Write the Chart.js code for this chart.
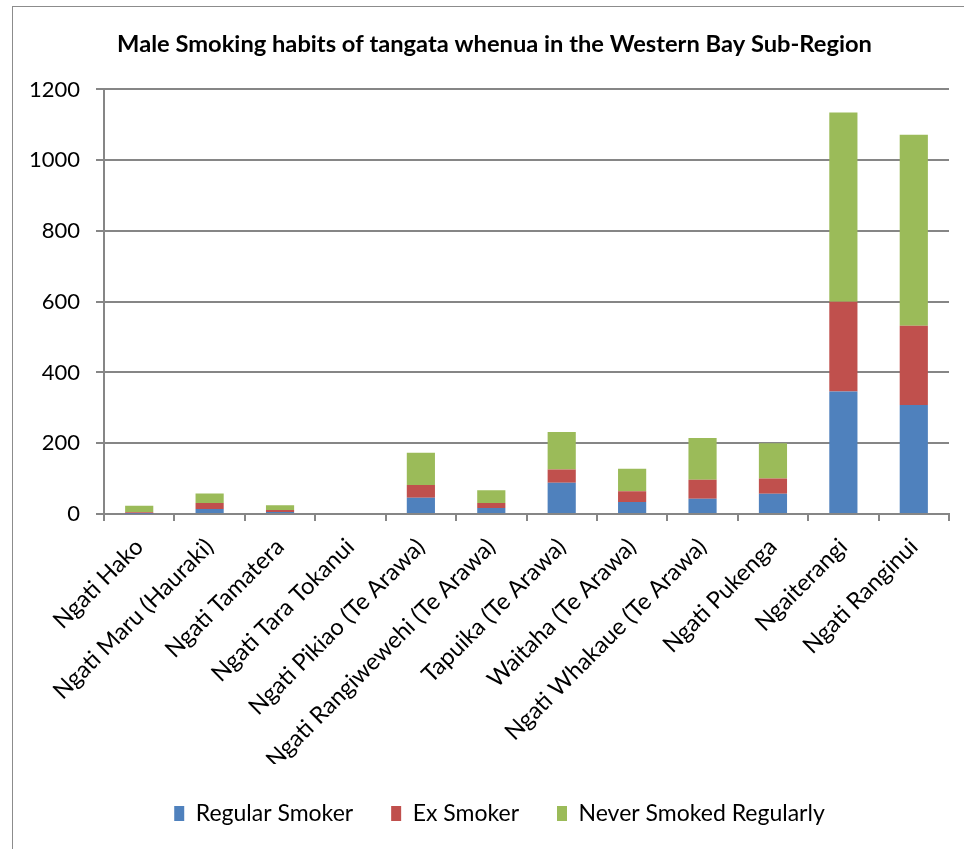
<!DOCTYPE html>
<html>
<head>
<meta charset="utf-8">
<script src="https://cdn.jsdelivr.net/npm/chart.js@4/dist/chart.umd.min.js"></script>
<style>
    html, body { margin: 0; padding: 0; background: #fff; overflow: hidden; }
    #frame {
        position: absolute; left: 12px; top: 6px;
        width: 1000px; height: 900px;
        border-left: 1px solid #8c8c8c; border-top: 1px solid #8c8c8c;
    }
    #wrap { position: absolute; left: 0; top: 0; width: 964px; height: 849px; }
</style>
</head>
<body>
<div id="frame"></div>
<div id="wrap"><canvas id="smoking-chart" width="964" height="849"></canvas></div>
<script>
    // Iwi / hapu categories
    const iwi = [
        'Ngati Hako', 'Ngati Maru (Hauraki)', 'Ngati Tamatera', 'Ngati Tara Tokanui',
        'Ngati Pikiao (Te Arawa)', 'Ngati Rangiwewehi (Te Arawa)', 'Tapuika (Te Arawa)',
        'Waitaha (Te Arawa)', 'Ngati Whakaue (Te Arawa)', 'Ngati Pukenga', 'Ngaiterangi', 'Ngati Ranginui'
    ];

    // Series values
    const regularSmoker = [1, 14, 6, 0, 46, 17, 88, 34, 43, 57, 346, 308];
    const exSmoker      = [4, 17, 5, 0, 36, 14, 38, 30, 54, 43, 254, 224];
    const neverSmoked   = [18, 27, 14, 0, 91, 36, 106, 64, 118, 100, 535, 540];

    const yTicks = [0, 200, 400, 600, 800, 1000, 1200];

    const FONT = 'Lato, "Open Sans", sans-serif';
    const AXIS_GREY = '#868686';

    // Excel centres the title and legend a little right of the canvas middle
    const shiftBlocks = {
        id: 'shiftBlocks',
        afterLayout: function(chart) {
            if (chart.legend) {
                chart.legend.left += 15;
                chart.legend.right += 15;
            }
            if (chart.titleBlock) {
                chart.titleBlock.left += 10;
                chart.titleBlock.right += 10;
            }
        }
    };

    const ctx = document.getElementById('smoking-chart').getContext('2d');
    new Chart(ctx, {
        type: 'bar',
        data: {
            labels: iwi,
            datasets: [{
                label: 'Regular Smoker',
                data: regularSmoker,
                backgroundColor: '#4F81BD'
            }, {
                label: 'Ex Smoker',
                data: exSmoker,
                backgroundColor: '#C0504D'
            }, {
                label: 'Never Smoked Regularly',
                data: neverSmoked,
                backgroundColor: '#9BBB59'
            }]
        },
        plugins: [shiftBlocks],
        options: {
            responsive: false,
            animation: false,
            devicePixelRatio: 1,
            categoryPercentage: 1,
            barPercentage: 0.4,
            layout: {
                padding: { left: 20, right: 15, top: 0, bottom: 14 }
            },
            plugins: {
                title: {
                    display: true,
                    text: 'Male Smoking habits of tangata whenua in the Western Bay Sub-Region',
                    color: '#000',
                    font: { family: FONT, size: 23.7, weight: 'bold' },
                    padding: { top: 30, bottom: 31 }
                },
                legend: {
                    position: 'bottom',
                    labels: {
                        color: '#000',
                        boxWidth: 10,
                        boxHeight: 15,
                        padding: 38,
                        font: { family: FONT, size: 23 }
                    }
                },
                tooltip: { enabled: false }
            },
            scales: {
                x: {
                    stacked: true,
                    offset: true,
                    afterFit: function(scale) {
                        scale.height = 250;
                    },
                    border: { color: AXIS_GREY, width: 2 },
                    grid: {
                        offset: true,
                        drawOnChartArea: false,
                        color: AXIS_GREY,
                        lineWidth: 2,
                        tickLength: 7
                    },
                    ticks: {
                        color: '#000',
                        maxRotation: 45,
                        minRotation: 45,
                        autoSkip: false,
                        padding: 12,
                        font: { family: FONT, size: 23.5 }
                    }
                },
                y: {
                    stacked: true,
                    min: 0,
                    max: 1200,
                    afterFit: function(scale) {
                        scale.width = 84;
                    },
                    afterBuildTicks: function(scale) {
                        scale.ticks = yTicks.map(v => ({ value: v }));
                    },
                    border: { color: AXIS_GREY, width: 2 },
                    grid: {
                        color: AXIS_GREY,
                        lineWidth: 2,
                        tickLength: 8
                    },
                    ticks: {
                        color: '#000',
                        padding: 16,
                        font: { family: FONT, size: 22 },
                        callback: function(value) {
                            return String(value);
                        }
                    }
                }
            }
        }
    });
</script>
</body>
</html>
